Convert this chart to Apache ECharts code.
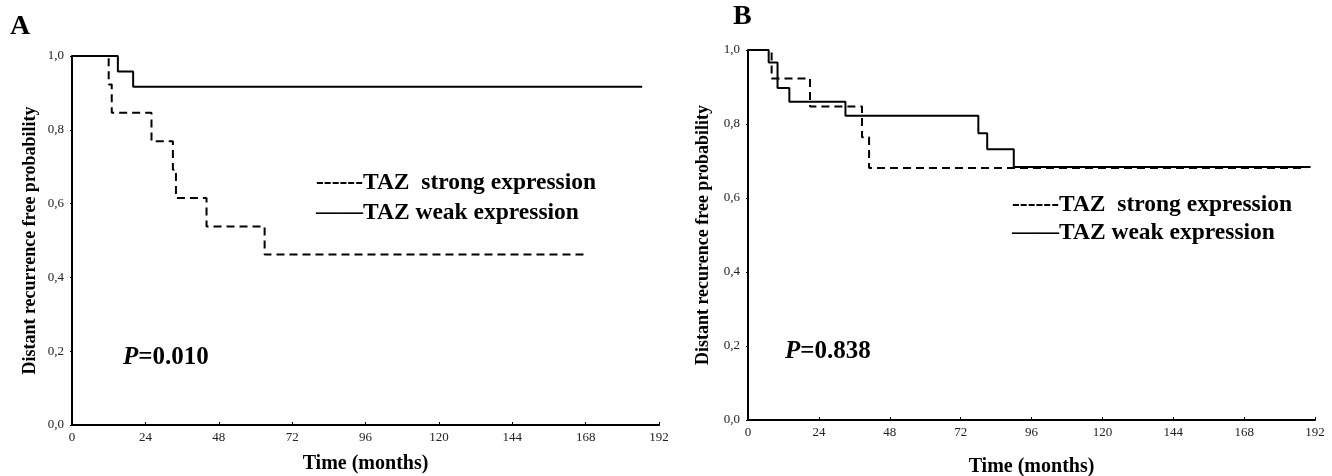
<!DOCTYPE html>
<html>
<head>
<meta charset="utf-8">
<script src="https://cdn.jsdelivr.net/npm/echarts@6/dist/echarts.min.js"></script>
<style>
html,body{margin:0;padding:0;background:#fff;}
#chart{width:1332px;height:476px;}
</style>
</head>
<body>
<div id="chart"></div>
<script>
// ---- Data (months, survival probability) ----
const xTicks = [0, 24, 48, 72, 96, 120, 144, 168, 192];
const yTicks = [0, 0.2, 0.4, 0.6, 0.8, 1.0];

// Panel A
const aWeakTime = [0, 15, 20, 186.5];
const aWeakSurv = [1, 0.958, 0.917, 0.917];
const aStrongTime = [0, 12, 13, 26, 33, 34, 44, 63, 168];
const aStrongSurv = [1, 0.923, 0.846, 0.769, 0.692, 0.615, 0.538, 0.462, 0.462];

// Panel B
const bWeakTime = [0, 7, 10, 14, 33, 78, 81, 90, 190.5];
const bWeakSurv = [1, 0.966, 0.897, 0.860, 0.822, 0.775, 0.732, 0.684, 0.684];
const bStrongTime = [0, 8, 21, 38.6, 41, 189];
const bStrongSurv = [1, 0.923, 0.847, 0.764, 0.681, 0.681];

const legendStrong = '------TAZ  strong expression';
const legendWeak = '——TAZ weak expression';
const pA = '0.010';
const pB = '0.838';

function pairs(t, s) { return t.map((v, i) => [v, s[i]]); }

const serif = '"Liberation Serif", "DejaVu Serif", serif';

function xAxis(gridIndex, gap) {
  return {
    type: 'value', gridIndex, min: 0, max: 192, interval: 24,
    name: 'Time (months)', nameLocation: 'middle', nameGap: gap,
    nameTextStyle: { fontFamily: serif, fontWeight: 'bold', fontSize: 20, color: '#000' },
    axisLine: { show: true, lineStyle: { color: '#000', width: 2 } },
    axisTick: { show: true, inside: true, length: 3, lineStyle: { color: '#000' } },
    axisLabel: { fontFamily: serif, fontSize: 13, color: '#222', margin: 6 },
    splitLine: { show: false }
  };
}
function yAxis(gridIndex, name, gap) {
  return {
    type: 'value', gridIndex, min: 0, max: 1, interval: 0.2,
    name: name, nameLocation: 'middle', nameGap: gap, nameRotate: 90,
    nameTextStyle: { fontFamily: serif, fontWeight: 'bold', fontSize: 18, color: '#000' },
    axisLine: { show: true, lineStyle: { color: '#000', width: 2 } },
    axisTick: { show: true, inside: false, length: 2, lineStyle: { color: '#000' } },
    axisLabel: { fontFamily: serif, fontSize: 13, color: '#222', margin: 8,
      formatter: v => v.toFixed(1).replace('.', ',') },
    splitLine: { show: false }
  };
}
function km(name, xi, data, dashed) {
  return {
    type: 'line', name, xAxisIndex: xi, yAxisIndex: xi, data, step: 'end',
    symbol: 'none', animation: false, z: dashed ? 3 : 2,
    lineStyle: { color: '#000', width: 2, type: dashed ? [8, 5] : 'solid' }
  };
}

function txt(x, y, text, size) {
  return {
    type: 'text', left: x, top: y,
    style: { text, font: 'bold ' + size + 'px ' + serif, fill: '#000' }
  };
}
function pval(x, y, v) {
  return {
    type: 'text', left: x, top: y,
    style: {
      text: '{i|P}{n|=' + v + '}',
      rich: {
        i: { fontFamily: serif, fontWeight: 'bold', fontStyle: 'italic', fontSize: 25, fill: '#000' },
        n: { fontFamily: serif, fontWeight: 'bold', fontSize: 25, fill: '#000' }
      }
    }
  };
}

const chart = echarts.init(document.getElementById('chart'), null, { renderer: 'canvas' });
chart.setOption({
  backgroundColor: '#fff',
  animation: false,
  grid: [
    { left: 72, right: 673, top: 56, bottom: 51, containLabel: false, outerBoundsMode: 'none' },
    { left: 748, right: 17, top: 50, bottom: 56, containLabel: false, outerBoundsMode: 'none' }
  ],
  xAxis: [xAxis(0, 29), xAxis(1, 37)],
  yAxis: [yAxis(0, 'Distant recurrence free probability', 33), yAxis(1, 'Distant recurence free probability', 36)],
  series: [
    km('A weak', 0, pairs(aWeakTime, aWeakSurv), false),
    km('A strong', 0, pairs(aStrongTime, aStrongSurv), true),
    km('B weak', 1, pairs(bWeakTime, bWeakSurv), false),
    km('B strong', 1, pairs(bStrongTime, bStrongSurv), true)
  ],
  graphic: [
    txt(10, 13, 'A', 28),
    txt(733, 3, 'B', 28),
    txt(316, 171, legendStrong, 23.5),
    txt(316, 201, legendWeak, 23.5),
    txt(1012, 193, legendStrong, 23.5),
    txt(1012, 221, legendWeak, 23.5),
    pval(123, 345, pA),
    pval(785, 339, pB)
  ]
});
</script>
</body>
</html>
